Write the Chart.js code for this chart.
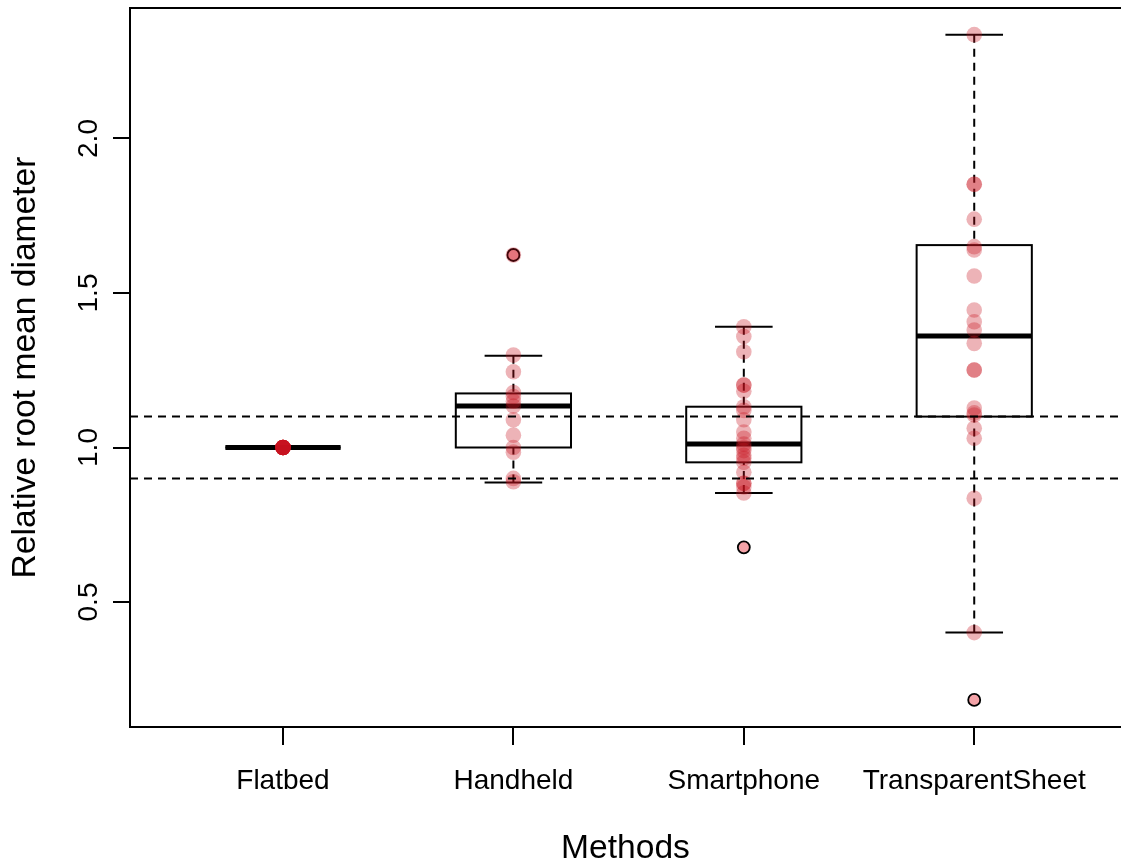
<!DOCTYPE html>
<html>
<head>
<meta charset="utf-8">
<title>Relative root mean diameter by method</title>
<script src="https://cdn.jsdelivr.net/npm/chart.js@4.4.1/dist/chart.umd.min.js"></script>
<style>
  html, body { margin: 0; padding: 0; background: #ffffff; }
  #wrap { width: 1121px; height: 864px; overflow: hidden; }
</style>
</head>
<body>
<div id="wrap"><canvas id="chart" width="1121" height="864"></canvas></div>
<script>
// Categories on the x axis
const methods = ['Flatbed', 'Handheld', 'Smartphone', 'TransparentSheet'];

// Box statistics per method
const whiskerLow  = [1.000, 0.887, 0.853, 0.401];
const q1          = [1.000, 1.000, 0.952, 1.100];
const median      = [1.000, 1.134, 1.011, 1.361];
const q3          = [1.000, 1.175, 1.132, 1.655];
const whiskerHigh = [1.000, 1.297, 1.391, 2.336];

// Individual observations drawn over each box
const flatbedValues = [1, 1, 1, 1, 1, 1, 1, 1, 1, 1, 1, 1];
const handheldValues = [0.889, 0.900, 0.985, 1.000, 1.040, 1.090, 1.134, 1.150, 1.165, 1.178, 1.245, 1.299, 1.623];
const smartphoneValues = [0.853, 0.872, 0.884, 0.884, 0.920, 0.952, 0.965, 0.975, 0.990, 1.000, 1.011, 1.030, 1.050, 1.090, 1.120, 1.132, 1.182, 1.202, 1.202, 1.310, 1.359, 1.391];
const transparentSheetValues = [0.401, 0.836, 1.030, 1.062, 1.105, 1.112, 1.128, 1.251, 1.251, 1.337, 1.380, 1.407, 1.445, 1.555, 1.639, 1.650, 1.739, 1.852, 1.852, 2.336];

// Points beyond the whiskers (category number, value)
const outlierMethod = [2, 3, 4];
const outlierValue  = [1.623, 0.677, 0.183];

// Axis ticks and reference levels
const yTicks = [0.5, 1.0, 1.5, 2.0];
const yTickLabels = ['0.5', '1.0', '1.5', '2.0'];
const refLevels = [1.1, 0.9];

// Axis limits
const xMin = 0.336, xMax = 4.637;
const yMin = 0.0955, yMax = 2.4223;

const FONT = '"Liberation Sans", Arial, Helvetica, sans-serif';
const BOX_HALF = 0.25;
const CAP_HALF = 0.125;

const observationGroups = [flatbedValues, handheldValues, smartphoneValues, transparentSheetValues];
const observations = [];
observationGroups.forEach((vals, i) => vals.forEach(v => observations.push({ x: i + 1, y: v })));
const outliers = outlierValue.map((v, i) => ({ x: outlierMethod[i], y: v }));

const refDatasets = refLevels.map(level => ({
  type: 'line',
  label: 'ref ' + level,
  data: [{ x: xMin, y: level }, { x: xMax, y: level }],
  borderColor: '#000',
  borderWidth: 2,
  borderDash: [8, 6],
  pointRadius: 0,
  fill: false,
  order: 0
}));

// Draws boxes, whiskers and medians beneath the points, then the frame top and y labels
const boxPlugin = {
  id: 'boxes',
  beforeDatasetsDraw(chart) {
    const { ctx, scales: { x, y } } = chart;
    const seg = (x1, y1, x2, y2) => { ctx.beginPath(); ctx.moveTo(x1, y1); ctx.lineTo(x2, y2); ctx.stroke(); };
    ctx.save();
    ctx.strokeStyle = '#000';
    ctx.lineCap = 'butt';
    methods.forEach((m, i) => {
      const c = i + 1;
      const cx = x.getPixelForValue(c);
      const left = x.getPixelForValue(c - BOX_HALF);
      const right = x.getPixelForValue(c + BOX_HALF);
      const capL = x.getPixelForValue(c - CAP_HALF);
      const capR = x.getPixelForValue(c + CAP_HALF);
      const yLo = y.getPixelForValue(whiskerLow[i]);
      const yQ1 = y.getPixelForValue(q1[i]);
      const yMed = y.getPixelForValue(median[i]);
      const yQ3 = y.getPixelForValue(q3[i]);
      const yHi = y.getPixelForValue(whiskerHigh[i]);

      ctx.lineWidth = 2;
      ctx.setLineDash([8, 6]);
      if (yHi < yQ3) seg(cx, yHi, cx, yQ3);
      if (yLo > yQ1) seg(cx, yLo, cx, yQ1);
      ctx.setLineDash([]);
      seg(capL, yHi, capR, yHi);
      seg(capL, yLo, capR, yLo);
      ctx.strokeRect(left, yQ3, right - left, yQ1 - yQ3);
      ctx.lineWidth = 5;
      seg(left, yMed, right, yMed);
    });
    ctx.restore();
  },
  afterDraw(chart) {
    const { ctx, chartArea, scales: { y } } = chart;
    ctx.save();
    ctx.strokeStyle = '#000';
    ctx.lineWidth = 2;
    ctx.beginPath();
    ctx.moveTo(chartArea.left - 1, chartArea.top);
    ctx.lineTo(chartArea.right, chartArea.top);
    ctx.stroke();

    ctx.fillStyle = '#000';
    ctx.font = '28px ' + FONT;
    ctx.textAlign = 'center';
    ctx.textBaseline = 'alphabetic';
    yTicks.forEach((v, i) => {
      const py = y.getPixelForValue(v);
      ctx.save();
      ctx.translate(97, py);
      ctx.rotate(-Math.PI / 2);
      ctx.fillText(yTickLabels[i], 0, 0);
      ctx.restore();
    });
    ctx.restore();
  }
};

new Chart(document.getElementById('chart'), {
  type: 'scatter',
  data: {
    datasets: [
      ...refDatasets,
      {
        label: 'observations',
        data: observations,
        backgroundColor: 'rgba(200, 20, 32, 0.32)',
        borderWidth: 0,
        pointRadius: 7.8,
        pointHoverRadius: 7.8,
        order: 1
      },
      {
        label: 'outliers',
        data: outliers,
        backgroundColor: '#f4a3a8',
        borderColor: '#000',
        borderWidth: 1.8,
        pointRadius: 6,
        pointHoverRadius: 6,
        order: 2
      }
    ]
  },
  options: {
    responsive: false,
    animation: false,
    events: [],
    layout: { autoPadding: false, padding: { top: 8, right: 0, bottom: 0, left: 0 } },
    plugins: { legend: { display: false }, tooltip: { enabled: false } },
    scales: {
      x: {
        type: 'linear',
        min: xMin,
        max: xMax,
        afterBuildTicks: s => { s.ticks = methods.map((m, i) => ({ value: i + 1 })); },
        afterFit: s => { s.height = 137; s.paddingLeft = 0; s.paddingRight = 0; },
        ticks: {
          callback: (v, i) => methods[i],
          font: { family: FONT, size: 28 },
          color: '#000',
          padding: 19,
          maxRotation: 0,
          minRotation: 0,
          autoSkip: false
        },
        grid: { drawOnChartArea: false, drawTicks: true, tickLength: 18, color: '#000', lineWidth: 2 },
        border: { display: true, color: '#000', width: 2 },
        title: {
          display: true,
          text: 'Methods',
          color: '#000',
          font: { family: FONT, size: 33.6, lineHeight: 1 },
          padding: { top: 0, bottom: -2 }
        }
      },
      y: {
        type: 'linear',
        min: yMin,
        max: yMax,
        afterBuildTicks: s => { s.ticks = yTicks.map(v => ({ value: v })); },
        afterFit: s => { s.width = 130; s.paddingTop = 0; s.paddingBottom = 0; },
        ticks: { display: false },
        grid: { drawOnChartArea: false, drawTicks: true, tickLength: 17, color: '#000', lineWidth: 2 },
        border: { display: true, color: '#000', width: 2 },
        title: {
          display: true,
          text: 'Relative root mean diameter',
          color: '#000',
          font: { family: FONT, size: 33.6, lineHeight: 1 },
          padding: { top: 9, bottom: 0 }
        }
      }
    }
  },
  plugins: [boxPlugin]
});
</script>
</body>
</html>
